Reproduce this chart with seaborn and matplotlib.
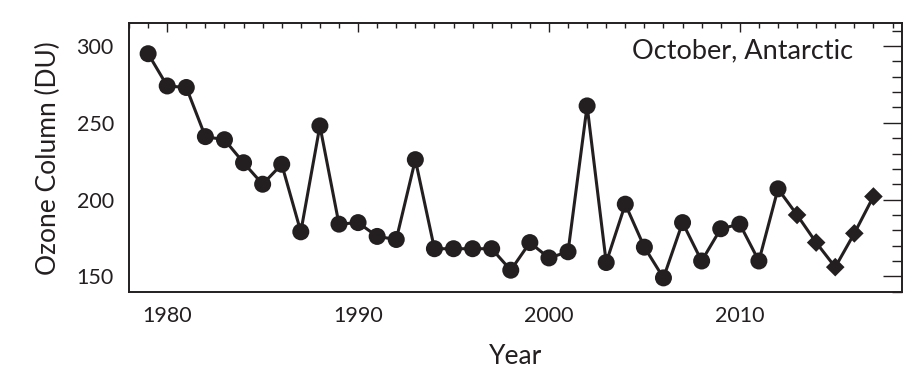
import pandas as pd
import matplotlib.pyplot as plt
import seaborn as sns
from matplotlib.ticker import MultipleLocator

# October mean total ozone column over Antarctica
years = list(range(1979, 2018))
ozone = [295, 274, 273, 241, 239, 224, 210, 223, 179, 248,
         184, 185, 176, 174, 226, 168, 168, 168, 168, 154,
         172, 162, 166, 261, 159, 197, 169, 149, 185, 160,
         181, 184, 160, 207, 190, 172, 156, 178, 202]
# last five years drawn with diamonds
source = ['obs'] * 34 + ['recent'] * 5

df = pd.DataFrame({'Year': years, 'Ozone': ozone, 'Source': source})

sns.set_style('white')
plt.rcParams['font.family'] = ['Lato', 'DejaVu Sans']
ink = '#231f20'

fig = plt.figure(figsize=(9.23, 3.86), dpi=100)
ax = fig.add_axes([0.1398, 0.2435, 0.8375, 0.6961])

sns.lineplot(data=df, x='Year', y='Ozone', color=ink, linewidth=2.2, ax=ax)
sns.scatterplot(data=df, x='Year', y='Ozone', style='Source',
                markers={'obs': 'o', 'recent': 'D'},
                size='Source', sizes={'obs': 150, 'recent': 90},
                color=ink, edgecolor='none', legend=False, ax=ax, zorder=3)

ax.set_xlim(1978.0, 2018.5)
ax.set_ylim(139.8, 314.8)
ax.xaxis.set_major_locator(MultipleLocator(10))
ax.xaxis.set_minor_locator(MultipleLocator(1))
ax.yaxis.set_major_locator(MultipleLocator(50))
ax.yaxis.set_minor_locator(MultipleLocator(10))
ax.tick_params(which='both', direction='in', top=True, right=True,
               color=ink, width=1.0, labelsize=15.5, labelcolor=ink)
ax.tick_params(axis='x', which='major', length=6.5, pad=10)
ax.tick_params(axis='x', which='minor', length=3.3)
ax.tick_params(axis='y', which='major', length=14, pad=11)
ax.tick_params(axis='y', which='minor', length=7)
for sp in ax.spines.values():
    sp.set_color(ink)
    sp.set_linewidth(1.4)

ax.set_xlabel('Year', fontsize=19, color=ink, labelpad=13)
ax.set_ylabel('Ozone Column (DU)', fontsize=19, color=ink, labelpad=11)
ax.text(0.9366, 0.868, 'October, Antarctic', transform=ax.transAxes,
        ha='right', va='baseline', fontsize=19.5, color=ink)

plt.savefig('out.png', dpi=100)
plt.close()
